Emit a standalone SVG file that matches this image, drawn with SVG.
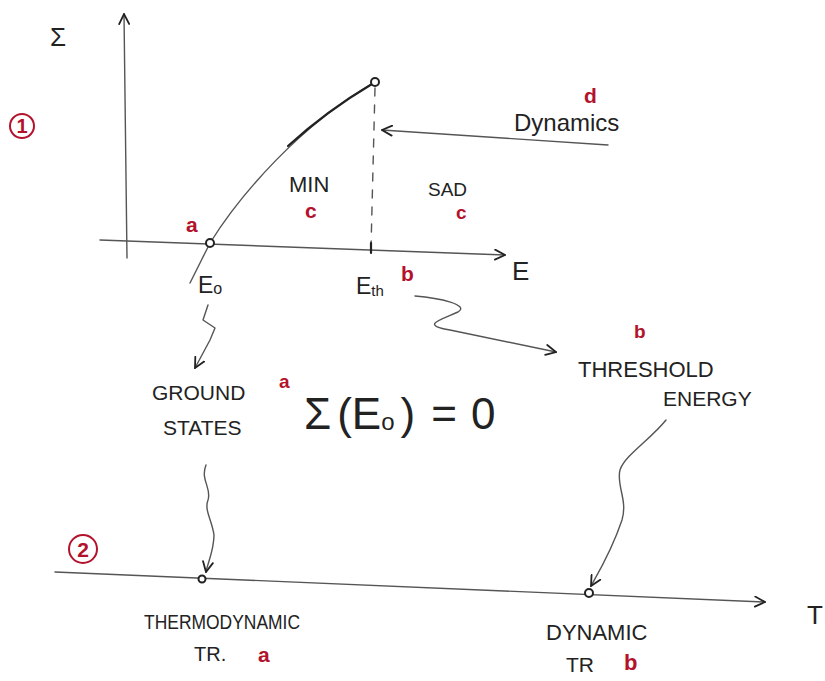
<svg xmlns="http://www.w3.org/2000/svg" width="825" height="681" viewBox="0 0 825 681">
<defs>
<style>
.ln{fill:none;stroke:#555;stroke-width:1.4;stroke-linecap:round;stroke-linejoin:round}
.dk{fill:none;stroke:#222;stroke-width:2.2;stroke-linecap:round;stroke-linejoin:round}
.t{font-family:"Liberation Sans",Arial,sans-serif;fill:#222}
.r{font-family:"Liberation Sans",Arial,sans-serif;fill:#b3122c;font-weight:bold}
.pt{fill:#fff;stroke:#222;stroke-width:2}
</style>
<marker id="ah" viewBox="0 0 12 12" refX="11" refY="6" markerWidth="12" markerHeight="12" markerUnits="userSpaceOnUse" orient="auto">
<path d="M1,1 L11,6 L1,11" fill="none" stroke="#222" stroke-width="1.8" stroke-linecap="round"/>
</marker>
</defs>
<rect width="825" height="681" fill="#fff"/>

<g id="axes-top">
<path class="ln" d="M127,258 L124,14" marker-end="url(#ah)"/>
<path class="ln" d="M100,240 L505,255" marker-end="url(#ah)"/>
<text class="t" x="50" y="46" font-size="26">Σ</text>
<text class="t" x="512" y="280" font-size="26">E</text>
</g>

<g id="circle1">
<circle cx="22" cy="126" r="12" fill="none" stroke="#b3122c" stroke-width="2"/>
<text class="r" x="22" y="133" font-size="20" text-anchor="middle" font-weight="normal">1</text>
</g>

<g id="curve">
<path class="ln" d="M190,283 L210,243"/>
<path class="ln" d="M210,243 C240,195 300,125 375,82"/>
<path class="dk" d="M288,146 C310,126 340,103 372,84"/>
<circle class="pt" cx="210" cy="243" r="4"/>
<circle class="pt" cx="375" cy="82" r="4"/>
<path class="ln" d="M375,88 L371,248" stroke-dasharray="8,9"/>
<path class="dk" d="M371,243 L371,253" stroke-width="3"/>
<text class="r" x="186" y="232" font-size="21">a</text>
<text class="t" x="198" y="293" font-size="23">E<tspan font-size="16" dy="1">o</tspan></text>
<text class="t" x="356" y="294" font-size="23">E<tspan font-size="15" dy="2">th</tspan></text>
<text class="r" x="401" y="281" font-size="21">b</text>
</g>

<g id="regions">
<text class="t" x="289" y="192" font-size="22">MIN</text>
<text class="r" x="305" y="218" font-size="21">c</text>
<text class="t" x="428" y="196" font-size="19">SAD</text>
<text class="r" x="456" y="219" font-size="19">c</text>
</g>

<g id="dynamics">
<text class="t" x="514" y="131" font-size="24">Dynamics</text>
<text class="r" x="584" y="103" font-size="21">d</text>
</g>

<g id="ground">
<text class="t" x="152" y="400" font-size="21">GROUND</text>
<text class="t" x="163" y="435" font-size="21">STATES</text>
<text class="r" x="279" y="388" font-size="19">a</text>
<text class="t" x="304" y="429" font-size="44">Σ<tspan dx="6">(E</tspan><tspan font-size="24" dy="1">o</tspan><tspan dy="-1" dx="6">)</tspan><tspan dx="16">=</tspan><tspan dx="14">0</tspan></text>
</g>

<g id="threshold">
<text class="r" x="634" y="338" font-size="19">b</text>
<text class="t" x="578" y="377" font-size="22">THRESHOLD</text>
<text class="t" x="663" y="406" font-size="21">ENERGY</text>
</g>

<g id="axis-bottom">
<path class="ln" d="M55,572 L765,602" marker-end="url(#ah)"/>
<text class="t" x="807" y="624" font-size="26">T</text>
<circle cx="83" cy="549" r="14" fill="none" stroke="#b3122c" stroke-width="2"/>
<text class="r" x="83" y="557" font-size="21" text-anchor="middle" font-weight="normal">2</text>
</g>

<g id="thermo">
<circle class="pt" cx="202" cy="579" r="3.5"/>
<text class="t" x="144" y="629" font-size="21" textLength="156" lengthAdjust="spacingAndGlyphs">THERMODYNAMIC</text>
<text class="t" x="194" y="661" font-size="20">TR.</text>
<text class="r" x="258" y="662" font-size="21">a</text>
</g>

<g id="dynamic">
<circle class="pt" cx="589" cy="593" r="4"/>
<text class="t" x="546" y="640" font-size="22">DYNAMIC</text>
<text class="t" x="566" y="672" font-size="21">TR</text>
<text class="r" x="624" y="670" font-size="22">b</text>
</g>

<g id="connectors">
<path class="ln" d="M608,145 L382,130" marker-end="url(#ah)"/>
<path class="ln" d="M208,305 L203,320 L215,328 L210,340 L195,368" marker-end="url(#ah)"/>
<path class="ln" d="M415,296 C440,298 470,305 458,312 C440,320 420,325 450,330 L556,352" marker-end="url(#ah)"/>
<path class="ln" d="M206,465 C200,480 212,488 208,500 C204,510 212,520 214,535 C214,550 208,562 206,572" marker-end="url(#ah)"/>
<path class="ln" d="M666,420 C650,440 625,455 620,470 C616,485 628,500 622,520 C612,550 600,570 591,586" marker-end="url(#ah)"/>
</g>
</svg>
